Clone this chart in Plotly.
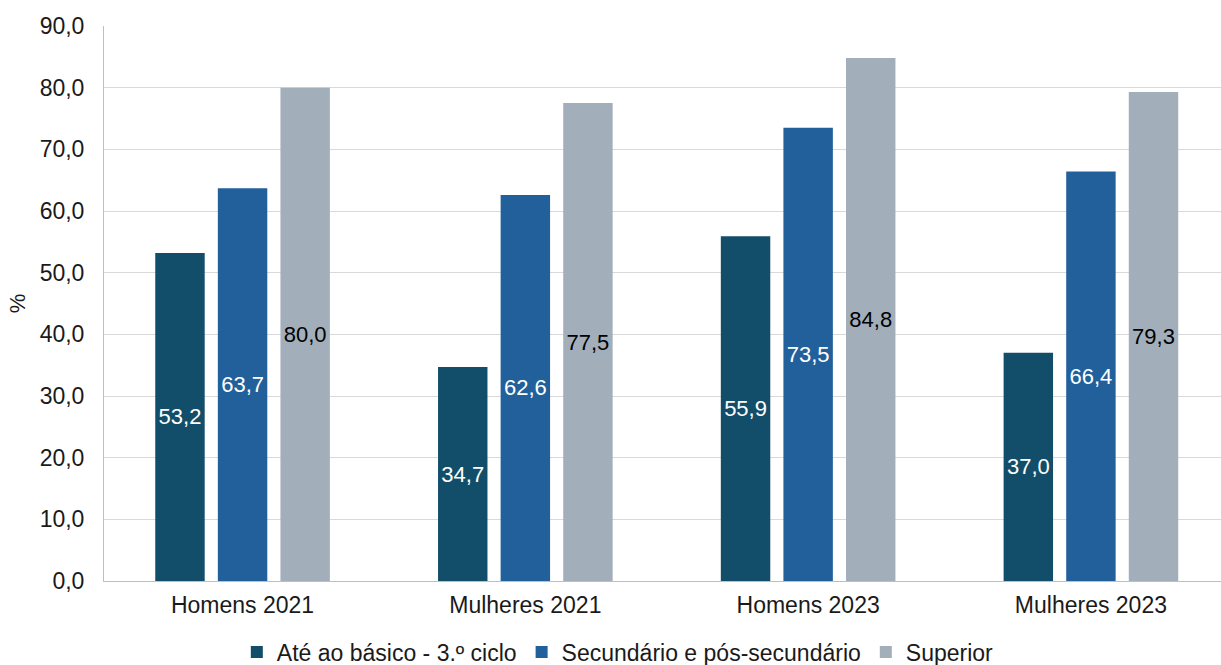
import plotly.graph_objects as go

categories = ["Homens 2021", "Mulheres 2021", "Homens 2023", "Mulheres 2023"]
series_names = ["Até ao básico - 3.º ciclo", "Secundário e pós-secundário", "Superior"]
basico = [53.2, 34.7, 55.9, 37.0]
secundario = [63.7, 62.6, 73.5, 66.4]
superior = [80.0, 77.5, 84.8, 79.3]
y_ticks = [0, 10, 20, 30, 40, 50, 60, 70, 80, 90]

colors = ["#124e69", "#22609b", "#a2afbb"]
text_colors = ["white", "white", "black"]
FONT = "Liberation Sans, Arial"

fig = go.Figure()
for name, vals, c, tc in zip(series_names, [basico, secundario, superior], colors, text_colors):
    fig.add_trace(go.Bar(
        x=categories, y=vals, name=name, marker_color=c, marker_line_width=0,
        text=[f"{v:.1f}".replace(".", ",") for v in vals],
        textposition="inside", insidetextanchor="middle", textangle=0,
        textfont=dict(color=tc, size=22, family=FONT),
        constraintext="none",
        cliponaxis=False,
    ))

fig.update_layout(
    width=1221, height=665,
    margin=dict(l=104, r=0, t=26, b=84, autoexpand=False),
    paper_bgcolor="white", plot_bgcolor="white",
    barmode="group", bargap=0.336, bargroupgap=0.21,
    font=dict(family=FONT, size=23, color="#1a1a1a"),
    showlegend=True,
    legend=dict(orientation="h", x=0.46, xanchor="center", y=-0.128, yanchor="middle",
                font=dict(size=23), traceorder="normal", itemwidth=30),
)
fig.update_xaxes(
    type="category", range=[-0.49, 3.46],
    showline=True, linecolor="#bfbfbf", linewidth=1,
    ticks="", tickfont=dict(size=23), showgrid=False, automargin=False,
    ticklabelstandoff=3,
)
fig.update_yaxes(
    range=[0, 90], tickvals=y_ticks,
    ticktext=[f"{v:.1f}".replace(".", ",") for v in y_ticks],
    showline=True, linecolor="#bfbfbf", linewidth=1,
    showgrid=True, gridcolor="#d9d9d9", gridwidth=1,
    tickfont=dict(size=23), ticks="", ticklabelstandoff=14,
    title=dict(text="%", font=dict(size=22), standoff=7),
    zeroline=False, automargin=False,
)

fig.write_html("out.html")
